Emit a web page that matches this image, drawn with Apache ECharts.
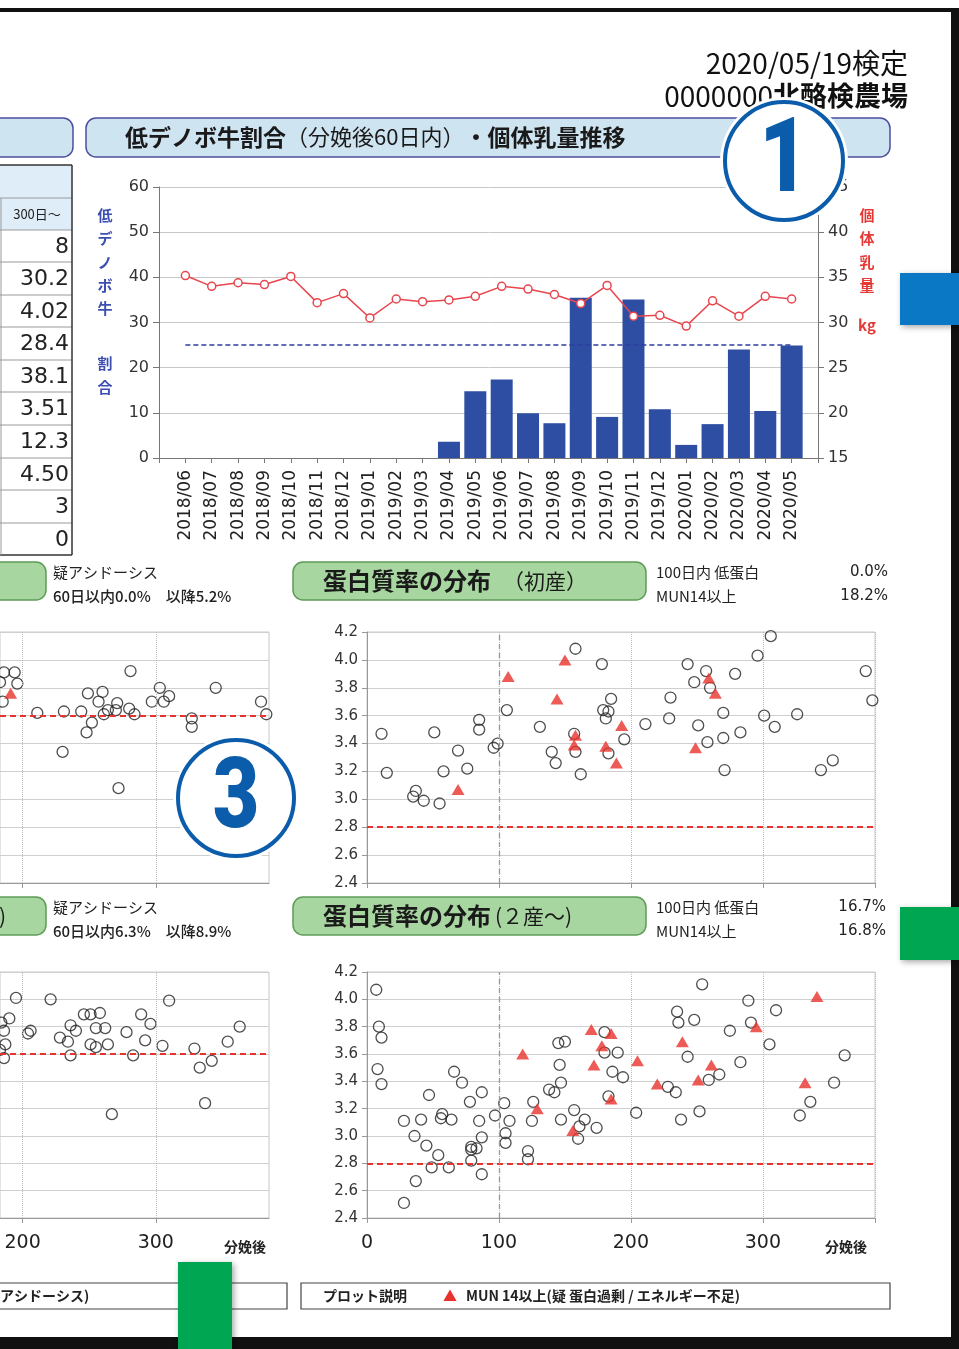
<!DOCTYPE html>
<html lang="ja">
<head>
<meta charset="UTF-8">
<title>乳検成績</title>
<script src="https://cdn.jsdelivr.net/npm/echarts@6/dist/echarts.min.js"></script>
<style>
  html, body { margin: 0; padding: 0; background: #fff; }
  .box { width: 959px; height: 1349px; }
</style>
</head>
<body>
<div class="box"></div>
<script>
// 低デノボ牛割合・個体乳量（月別）
const months = ['2018/06','2018/07','2018/08','2018/09','2018/10','2018/11','2018/12',
  '2019/01','2019/02','2019/03','2019/04','2019/05','2019/06','2019/07','2019/08','2019/09',
  '2019/10','2019/11','2019/12','2020/01','2020/02','2020/03','2020/04','2020/05'];
const lowDenovo = [0,0,0,0,0,0,0,0,0,0,3.6,14.8,17.4,9.9,7.7,35.5,9.1,35.1,10.8,2.9,7.5,24.0,10.4,24.9];
const milkYield = [35.2,34.0,34.4,34.2,35.1,32.2,33.2,30.5,32.6,32.3,32.5,32.9,34.0,33.7,33.1,32.1,34.1,30.7,30.8,29.6,32.4,30.7,32.9,32.6];
const lowDenovoTarget = 25;

// 左の表（300日～）
const tableValues = ['8','30.2','4.02','28.4','38.1','3.51','12.3','4.50','3','0'];

// 蛋白質率の分布（初産） [分娩後日数, 蛋白質率]
const primiCircles = [[11,3.47],[15,3.19],[35,3.02],[37,3.06],[43,2.99],[51,3.48],[55,2.97],[58,3.20],
  [69,3.35],[76,3.22],[85,3.57],[85,3.50],[96,3.37],[99,3.40],[106,3.64],[131,3.52],[140,3.34],[143,3.26],
  [157,3.47],[158,3.34],[158,4.08],[162,3.18],[178,3.97],[179,3.64],[181,3.58],[183,3.63],[185,3.72],[183,3.33],
  [195,3.43],[211,3.54],[230,3.73],[229,3.58],[243,3.97],[248,3.84],[257,3.92],[260,3.80],[251,3.53],[258,3.41],
  [270,3.44],[270,3.62],[271,3.21],[279,3.90],[283,3.48],[296,4.03],[306,4.17],[301,3.60],[309,3.52],[326,3.61],
  [344,3.21],[353,3.28],[378,3.92],[383,3.71]];
const primiMun = [[69,3.07],[107,3.88],[150,4.00],[144,3.72],[158,3.46],[157,3.39],[181,3.38],[189,3.26],
  [193,3.53],[259,3.87],[264,3.76],[249,3.37]];

// 蛋白質率の分布（2産～）
const multiCircles = [[7,4.07],[9,3.80],[11,3.72],[8,3.49],[11,3.38],[28,3.11],[28,2.51],[36,3.00],[37,2.67],
  [41,3.12],[45,2.93],[47,3.30],[49,2.77],[54,2.86],[56,3.13],[57,3.16],[62,2.77],[64,3.12],[66,3.47],[72,3.39],
  [78,3.25],[79,2.92],[79,2.82],[79,2.90],[83,2.91],[85,3.11],[87,3.32],[87,2.99],[87,2.72],[97,3.15],[104,3.24],
  [105,3.02],[105,2.95],[108,3.11],[122,2.89],[122,2.83],[125,3.11],[126,3.25],[138,3.34],[142,3.32],[146,3.52],
  [145,3.68],[150,3.69],[147,3.39],[147,3.12],[157,3.19],[161,3.07],[160,2.98],[165,3.12],[174,3.06],[180,3.76],
  [180,3.61],[183,3.29],[186,3.47],[190,3.61],[194,3.43],[204,3.17],[228,3.36],[234,3.32],[238,3.12],[235,3.91],
  [236,3.83],[248,3.85],[243,3.58],[252,3.18],[254,4.11],[259,3.41],[267,3.45],[275,3.77],[283,3.54],[289,3.99],
  [291,3.83],[305,3.67],[310,3.92],[328,3.15],[336,3.25],[354,3.39],[362,3.59]];
const multiMun = [[118,3.60],[129,3.20],[156,3.04],[170,3.78],[185,3.75],[178,3.66],[172,3.52],[185,3.27],
  [205,3.55],[220,3.38],[239,3.69],[251,3.41],[261,3.52],[295,3.80],[332,3.39],[341,4.02]];

// 左側（一部のみ見える）分布
const leftMidCircles = [[186,3.91],[194,3.91],[196,3.83],[183,3.84],[185,3.70],[211,3.62],[231,3.63],[230,3.34],
  [244,3.63],[249,3.76],[260,3.77],[257,3.70],[252,3.55],[248,3.48],[261,3.61],[264,3.64],[271,3.69],[270,3.64],
  [280,3.65],[284,3.61],[281,3.92],[272,3.08],[297,3.70],[303,3.80],[306,3.70],[310,3.74],[327,3.58],[327,3.52],
  [345,3.80],[379,3.70],[383,3.61]];
const leftMidTri = [[191,3.76]];
const leftBotCircles = [[195,4.01],[190,3.86],[184,3.83],[186,3.77],[187,3.67],[186,3.57],[183,3.63],[204,3.75],
  [206,3.77],[221,4.00],[228,3.72],[234,3.69],[236,3.81],[240,3.77],[236,3.59],[246,3.89],[251,3.89],[258,3.90],
  [255,3.79],[262,3.79],[251,3.67],[255,3.65],[264,3.67],[278,3.76],[267,3.16],[283,3.59],[289,3.89],[296,3.82],
  [292,3.70],[305,3.66],[310,3.99],[329,3.64],[333,3.50],[342,3.55],[337,3.24],[354,3.69],[363,3.80]];
const dayTicks = [0, 100, 200, 300];
const leftVisibleTicks = [200, 300];

const CJK = '"Noto Sans CJK JP"';
const NUM = '"DejaVu Sans"';

// グラフ
let chart = echarts.init(document.querySelector('.box'), null, { renderer: 'canvas' });

// 両端に空のカテゴリを足して、軸の内側に点が来るようにする
const xCats = [''].concat(months, ['']);
const barData = [null].concat(lowDenovo, [null]);
const lineData = [null].concat(milkYield, [null]);

function txt(x, y, s, font, fill, align, z) {
  return {
    type: 'text', z: z || 50,
    style: { x: x, y: y, text: s, font: font, fill: fill || '#222',
      align: align || 'left', verticalAlign: 'middle',
      textAlign: align || 'left', textVerticalAlign: 'middle' }
  };
}
function rect(x, y, w, h, fill, stroke, r, z, extra) {
  return {
    type: 'rect', z: z || 10,
    shape: { x: x, y: y, width: w, height: h, r: r || 0 },
    style: Object.assign({ fill: fill, stroke: stroke || null, lineWidth: stroke ? 1.5 : 0 }, extra || {})
  };
}
function hline(x1, x2, y, color, w) {
  return { type: 'line', z: 12, shape: { x1: x1, y1: y, x2: x2, y2: y }, style: { stroke: color, lineWidth: w || 1 } };
}
function vline(x, y1, y2, color, w) {
  return { type: 'line', z: 12, shape: { x1: x, y1: y1, x2: x, y2: y2 }, style: { stroke: color, lineWidth: w || 1 } };
}

let g = [];
// タイトル枠
g.push(rect(-20, 118, 93, 39, '#cfe4f1', '#4d4f9e', 10));
g.push(rect(86, 118, 804, 39, '#cfe4f1', '#4d4f9e', 10));
g.push({
  type: 'text', z: 20,
  style: {
    x: 125, y: 137, text: '{b|低デノボ牛割合}{n|（分娩後60日内）}{b|・個体乳量推移}',
    fill: '#1a1a1a', verticalAlign: 'middle', textVerticalAlign: 'middle',
    rich: {
      b: { font: 'bold 23px ' + CJK, fill: '#1a1a1a' },
      n: { font: '22px ' + CJK, fill: '#1a1a1a' }
    }
  }
});

// 検定日・農場名
g.push(txt(908, 63, '2020/05/19検定', '28px ' + CJK, '#111', 'right'));
g.push({
  type: 'text', z: 20,
  style: {
    x: 908, y: 96, text: '{n|0000000}{b|北酪検農場}', align: 'right', textAlign: 'right',
    verticalAlign: 'middle', textVerticalAlign: 'middle', fill: '#111',
    rich: { n: { font: '28px ' + CJK, fill: '#111' }, b: { font: 'bold 27px ' + CJK, fill: '#111' } }
  }
});

// 左の表
g.push(rect(-5, 165, 77, 65, '#deedf8'));
const rowY = [165, 198, 230, 262, 295, 327, 360, 392, 425, 458, 490, 523, 555];
rowY.forEach(function (y, i) {
  const outer = (i === 0 || i === rowY.length - 1);
  g.push(hline(0, 72, y, outer ? '#333' : '#9a9a9a', outer ? 1.5 : 1));
});
g.push(vline(72, 165, 555, '#333', 1.5));
g.push(vline(1, 198, 555, '#9a9a9a', 1));
g.push(txt(37, 214, '300日～', '13px ' + CJK, '#222', 'center'));
tableValues.forEach(function (v, i) {
  g.push(txt(69, (rowY[i + 2] + rowY[i + 3]) / 2 + 1, v, '22px ' + NUM, '#222', 'right'));
});

// 軸名（縦書き）
[['低', 215], ['デ', 238], ['ノ', 262], ['ボ', 285], ['牛', 308], ['割', 363], ['合', 387]].forEach(function (c) {
  g.push(txt(105, c[1], c[0], 'bold 15px ' + CJK, '#3d4fb0', 'center'));
});
[['個', 215], ['体', 238], ['乳', 262], ['量', 285]].forEach(function (c) {
  g.push(txt(867, c[1], c[0], 'bold 15px ' + CJK, '#e53935', 'center'));
});
g.push(txt(867, 325, 'kg', 'bold 15px ' + CJK, '#e53935', 'center'));

// 緑の見出し枠
[562, 897].forEach(function (y) {
  g.push(rect(-20, y, 66, 38, '#a8d6a0', '#5e9c57', 10));
  g.push(rect(293, y, 353, 38, '#a8d6a0', '#5e9c57', 10));
});
g.push(txt(323, 581, '蛋白質率の分布', 'bold 24px ' + CJK, '#1a1a1a'));
g.push(txt(503, 581, '（初産）', '21px ' + CJK, '#1a1a1a'));
g.push(txt(323, 916, '蛋白質率の分布', 'bold 24px ' + CJK, '#1a1a1a'));
g.push(txt(495, 916, '(２産～)', '21px ' + CJK, '#1a1a1a'));
g.push(txt(6, 916, '(２産～)', '21px ' + CJK, '#1a1a1a', 'right'));

// 見出し横の数値
g.push(txt(53, 572, '疑アシドーシス', '15px ' + CJK, '#222'));
g.push(txt(53, 596, '60日以内0.0%　以降5.2%', '500 15px ' + CJK, '#222'));
g.push(txt(53, 907, '疑アシドーシス', '15px ' + CJK, '#222'));
g.push(txt(53, 931, '60日以内6.3%　以降8.9%', '500 15px ' + CJK, '#222'));
g.push(txt(656, 572, '100日内 低蛋白', '15px ' + CJK, '#222'));
g.push(txt(888, 572, '0.0%', '15px ' + NUM, '#222', 'right'));
g.push(txt(656, 596, 'MUN14以上', '15px ' + CJK, '#222'));
g.push(txt(888, 596, '18.2%', '15px ' + NUM, '#222', 'right'));
g.push(txt(656, 907, '100日内 低蛋白', '15px ' + CJK, '#222'));
g.push(txt(886, 907, '16.7%', '15px ' + NUM, '#222', 'right'));
g.push(txt(656, 931, 'MUN14以上', '15px ' + CJK, '#222'));
g.push(txt(886, 931, '16.8%', '15px ' + NUM, '#222', 'right'));

// 横軸の単位
g.push(txt(245, 1247, '分娩後', 'bold 14px ' + CJK, '#222', 'center'));
g.push(txt(846, 1247, '分娩後', 'bold 14px ' + CJK, '#222', 'center'));

// プロット説明
g.push(rect(-10, 1283, 297, 26, '#fff', '#444', 0, 10, { lineWidth: 1.2 }));
g.push(rect(301, 1283, 589, 26, '#fff', '#444', 0, 10, { lineWidth: 1.2 }));
g.push(txt(0, 1296, 'アシドーシス)', 'bold 14px ' + CJK, '#222'));
g.push(txt(323, 1296, 'プロット説明', 'bold 14px ' + CJK, '#222'));
g.push(txt(443, 1296, '▲', '14px ' + CJK, '#e8322d'));
g.push(txt(466, 1296, 'MUN 14以上(疑 蛋白過剰 / エネルギー不足)', 'bold 14px ' + CJK, '#222'));

// 丸数字
function badge(cx, cy, r, s, size) {
  g.push({ type: 'circle', z: 200, shape: { cx: cx, cy: cy, r: r + 5 }, style: { fill: '#fff' } });
  g.push({ type: 'circle', z: 201, shape: { cx: cx, cy: cy, r: r }, style: { fill: '#fff', stroke: '#0b5cab', lineWidth: 4 } });
  g.push({
    type: 'text', z: 202, x: cx, y: cy + 4, scaleX: 0.82,
    style: { x: 0, y: 0, text: s, font: '900 ' + size + 'px Roboto', fill: '#0b5cab',
      align: 'center', textAlign: 'center', verticalAlign: 'middle', textVerticalAlign: 'middle' }
  });
}
badge(784, 161, 59, '1', 104);
badge(236, 798, 58, '3', 98);

// 枠・タブ
g.push(rect(0, 8, 955, 4, '#111', null, 0, 300));
g.push(rect(951, 8, 8, 1341, '#111', null, 0, 300));
g.push(rect(0, 1337, 959, 12, '#111', null, 0, 300));
const shadow = { shadowBlur: 6, shadowColor: 'rgba(0,0,0,0.35)', shadowOffsetX: 2, shadowOffsetY: 2 };
g.push(rect(900, 273, 59, 52, '#0a78c5', null, 0, 310, shadow));
g.push(rect(900, 907, 59, 53, '#00a651', null, 0, 310, shadow));
g.push(rect(178, 1262, 54, 87, '#00a651', null, 0, 310, shadow));

// 散布図の軸設定
// 右側：0～385日（全体が見える）
function scatterX(grid, showLabel) {
  return {
    type: 'value', gridIndex: grid, min: 0, max: 385, interval: 100,
    axisLine: { show: true, lineStyle: { color: '#999' } },
    axisTick: { show: true, length: 5, lineStyle: { color: '#999' } },
    axisLabel: { show: showLabel, margin: 16, fontSize: 19, fontFamily: 'DejaVu Sans', color: '#222',
      formatter: function (v) { return v > 380 ? '' : String(v); } },
    splitLine: { show: true, lineStyle: { color: '#bdbdbd', type: 'dotted' } }
  };
}
// 左側：紙面の端で切れているので 183 日から先だけ
function leftX(grid, showLabel) {
  return {
    type: 'value', gridIndex: grid, min: 183, max: 385,
    axisLine: { show: true, lineStyle: { color: '#999' } },
    axisTick: { show: true, length: 5, lineStyle: { color: '#999' }, customValues: leftVisibleTicks },
    axisLabel: { show: showLabel, margin: 16, fontSize: 19, fontFamily: 'DejaVu Sans', color: '#222',
      customValues: leftVisibleTicks },
    splitLine: { show: false }
  };
}
function scatterY(grid, showLabel) {
  return {
    type: 'value', gridIndex: grid, min: 2.4, max: 4.2, interval: 0.2,
    axisLine: { show: showLabel, lineStyle: { color: '#999' } },
    axisTick: { show: showLabel, length: 5, lineStyle: { color: '#999' } },
    axisLabel: { show: showLabel, margin: 9, fontSize: 15, fontFamily: 'DejaVu Sans', color: '#333',
      formatter: function (v) { return v.toFixed(1); } },
    splitLine: { show: true, lineStyle: { color: '#cfcfcf' } }
  };
}
function circles(data, xi, yi, extra) {
  return Object.assign({
    type: 'scatter', xAxisIndex: xi, yAxisIndex: yi, data: data, symbol: 'circle', symbolSize: 11,
    itemStyle: { color: 'rgba(0,0,0,0)', borderColor: '#222', borderWidth: 1.3 }, silent: true
  }, extra || {});
}
function triangles(data, xi, yi) {
  return {
    type: 'scatter', xAxisIndex: xi, yAxisIndex: yi, data: data, symbol: 'triangle', symbolSize: [13, 11],
    itemStyle: { color: '#e8322d' }, silent: true, z: 3
  };
}
const redLine = function (y) {
  return { silent: true, symbol: 'none', label: { show: false },
    lineStyle: { color: '#e8322d', type: [6, 4], width: 2 }, data: [{ yAxis: y }] };
};
const dayLine = { silent: true, symbol: 'none', label: { show: false },
  lineStyle: { color: '#999', type: [5, 4], width: 1.3 }, data: [{ xAxis: 100 }] };
const leftDayLines = { silent: true, symbol: 'none', label: { show: false },
  lineStyle: { color: '#bdbdbd', type: 'dotted', width: 1 },
  data: leftVisibleTicks.map(function (d) { return { xAxis: d }; }) };

let option = {
  animation: false,
  backgroundColor: '#fff',
  grid: [
    { left: 159, right: 141, top: 187, bottom: 891 },
    { left: 0, right: 690, top: 632, bottom: 466, show: true, borderColor: '#c8c8c8' },
    { left: 367, right: 84, top: 632, bottom: 466, show: true, borderColor: '#c8c8c8' },
    { left: 0, right: 690, top: 972, bottom: 131, show: true, borderColor: '#c8c8c8' },
    { left: 367, right: 84, top: 972, bottom: 131, show: true, borderColor: '#c8c8c8' }
  ],
  xAxis: [
    {
      type: 'category', gridIndex: 0, data: xCats, boundaryGap: false,
      axisLine: { lineStyle: { color: '#777' } },
      axisTick: { length: 5, interval: 0, lineStyle: { color: '#777' } },
      axisLabel: { interval: 0, rotate: 90, margin: 12, fontSize: 17, fontFamily: 'DejaVu Sans', color: '#222' },
      splitLine: { show: false }
    },
    leftX(1, false), scatterX(2, false), leftX(3, true), scatterX(4, true)
  ],
  yAxis: [
    {
      type: 'value', gridIndex: 0, min: 0, max: 60, interval: 10,
      axisLine: { show: true, lineStyle: { color: '#777' } },
      axisTick: { show: true, length: 6, lineStyle: { color: '#777' } },
      axisLabel: { margin: 10, fontSize: 16, fontFamily: 'DejaVu Sans', color: '#333' },
      splitLine: { lineStyle: { color: '#c8c8c8' } }
    },
    {
      type: 'value', gridIndex: 0, position: 'right', min: 15, max: 45, interval: 5,
      axisLine: { show: true, lineStyle: { color: '#777' } },
      axisTick: { show: true, length: 6, lineStyle: { color: '#777' } },
      axisLabel: { margin: 10, fontSize: 16, fontFamily: 'DejaVu Sans', color: '#333' },
      splitLine: { show: false }
    },
    scatterY(1, false), scatterY(2, true), scatterY(3, false), scatterY(4, true)
  ],
  graphic: { elements: g },
  series: [
    {
      name: '低デノボ牛割合', type: 'bar', xAxisIndex: 0, yAxisIndex: 0, data: barData, barWidth: 22,
      itemStyle: { color: '#2e4ea3' },
      markLine: {
        silent: true, symbol: 'none', label: { show: false },
        lineStyle: { color: '#2b3fa0', type: [5, 3], width: 1.5 },
        data: [[{ coord: [months[0], lowDenovoTarget] }, { coord: [months[months.length - 1], lowDenovoTarget] }]]
      }
    },
    {
      name: '個体乳量', type: 'line', xAxisIndex: 0, yAxisIndex: 1, data: lineData,
      symbol: 'circle', symbolSize: 8, connectNulls: false,
      lineStyle: { color: '#e8464e', width: 1.5 },
      itemStyle: { color: '#fff', borderColor: '#e8464e', borderWidth: 1.5 }
    },
    Object.assign(circles([], 1, 2), { markLine: leftDayLines }),
    circles(leftMidCircles, 1, 2, { markLine: redLine(3.6) }),
    triangles(leftMidTri, 1, 2),
    circles(primiCircles, 2, 3, { markLine: redLine(2.8) }),
    triangles(primiMun, 2, 3),
    Object.assign(circles([], 2, 3), { markLine: dayLine }),
    Object.assign(circles([], 3, 4), { markLine: leftDayLines }),
    circles(leftBotCircles, 3, 4, { markLine: redLine(3.6) }),
    circles(multiCircles, 4, 5, { markLine: redLine(2.8) }),
    triangles(multiMun, 4, 5),
    Object.assign(circles([], 4, 5), { markLine: dayLine })
  ]
};
chart.setOption(option);
</script>
</body>
</html>
